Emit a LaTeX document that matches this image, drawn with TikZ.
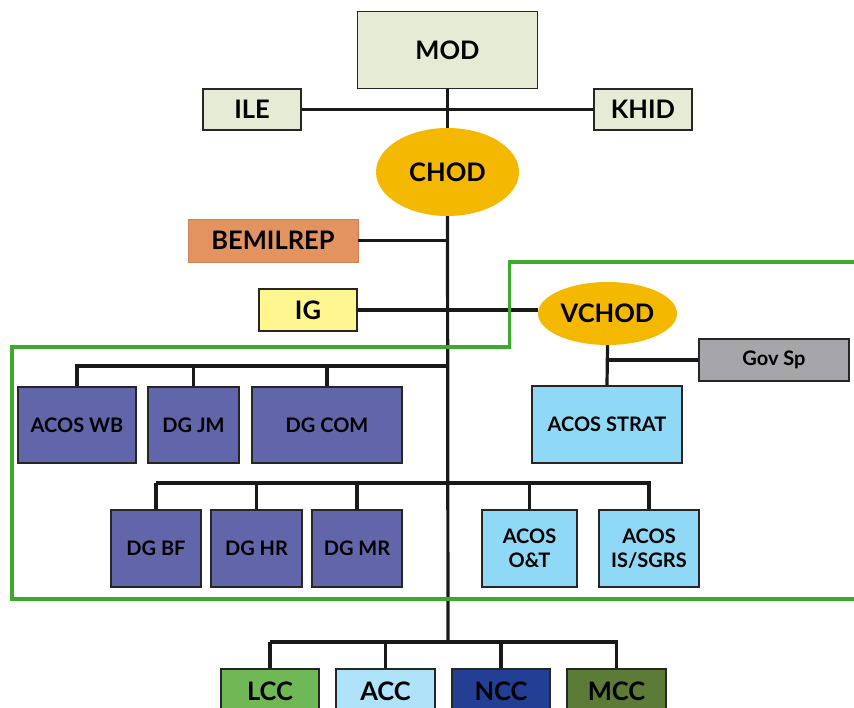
\documentclass[tikz,border=0pt]{standalone}
\usepackage{fontspec}
\setmainfont{Lato}
\usetikzlibrary{shapes.geometric}
\definecolor{modfill}{HTML}{E6EBD6}
\definecolor{gold}{HTML}{F5B800}
\definecolor{bemfill}{HTML}{E3935F}
\definecolor{igfill}{HTML}{FFF68F}
\definecolor{slate}{HTML}{6166AA}
\definecolor{sky}{HTML}{8FD9F7}
\definecolor{govfill}{HTML}{A6A5AA}
\definecolor{lccfill}{HTML}{6FB855}
\definecolor{accfill}{HTML}{AEE3F9}
\definecolor{nccfill}{HTML}{233F94}
\definecolor{mccfill}{HTML}{5B7B36}
\definecolor{frame}{HTML}{3DAA2E}
\tikzset{
  big/.style={font=\fontsize{25.5}{29}\selectfont\bfseries},
  small/.style={font=\fontsize{20}{24}\selectfont\bfseries, align=center},
  box/.style={draw=black!85, line width=1.8pt, rectangle, inner sep=0pt, text=black},
  oval/.style={ellipse, fill=gold, inner sep=0pt, text=black},
  conn/.style={line width=3.2pt, black!90},
  greenline/.style={line width=3.2pt, frame}
}
\begin{document}
\begin{tikzpicture}[x=1pt,y=-1pt]
\useasboundingbox (0,0) rectangle (854,708);
\clip (0,0) rectangle (854,708);
% nodes
\node[box, big, fill=modfill, minimum width=180pt, minimum height=77pt] (mod) at (447.5,50) {MOD};
\node[box, big, fill=modfill, minimum width=98pt, minimum height=41pt] (ile) at (252,109.5) {ILE};
\node[box, big, fill=modfill, minimum width=98pt, minimum height=41pt] (khid) at (643,109.5) {KHID};
\node[oval, big, minimum width=143pt, minimum height=88pt] (chod) at (447.5,172) {CHOD};
\node[rectangle, inner sep=0pt, big, fill=bemfill, draw=bemfill!90!black, line width=0.8pt, minimum width=170pt, minimum height=43pt] (bem) at (273,240.5) {BEMILREP};
\node[box, big, fill=igfill, minimum width=98pt, minimum height=42pt] (ig) at (308,310) {IG};
\node[oval, big, minimum width=139pt, minimum height=63pt] (vchod) at (607.5,313.5) {VCHOD};
\node[box, small, fill=govfill, minimum width=150pt, minimum height=42pt] (gov) at (774,360) {Gov Sp};
\node[box, small, fill=sky, minimum width=150pt, minimum height=77pt] (strat) at (607,424.5) {ACOS STRAT};
\node[box, small, fill=slate, minimum width=118pt, minimum height=76pt] (acoswb) at (77,425) {ACOS WB};
\node[box, small, fill=slate, minimum width=91pt, minimum height=76pt] (dgjm) at (193.5,425) {DG JM};
\node[box, small, fill=slate, minimum width=150pt, minimum height=76pt] (dgcom) at (327,425) {DG COM};
\node[box, small, fill=slate, minimum width=90pt, minimum height=77pt] (dgbf) at (156,548.5) {DG BF};
\node[box, small, fill=slate, minimum width=91pt, minimum height=77pt] (dghr) at (256.5,548.5) {DG HR};
\node[box, small, fill=slate, minimum width=90pt, minimum height=77pt] (dgmr) at (357,548.5) {DG MR};
\node[box, small, fill=sky, minimum width=95pt, minimum height=77pt] (acosot) at (529.5,548.5) {ACOS\\O\&T};
\node[box, small, fill=sky, minimum width=100pt, minimum height=77pt] (acosis) at (649,548.5) {ACOS\\IS/SGRS};
\node[box, big, fill=lccfill, minimum width=98pt, minimum height=44pt] (lcc) at (270,691) {LCC};
\node[box, big, fill=accfill, minimum width=99pt, minimum height=44pt] (acc) at (385.5,691) {ACC};
\node[box, big, fill=nccfill, minimum width=98pt, minimum height=44pt] (ncc) at (501,691) {NCC};
\node[box, big, fill=mccfill, minimum width=99pt, minimum height=44pt] (mcc) at (616.5,691) {MCC};
% junctions
\coordinate (j1) at (448,366);
\coordinate (j2) at (448,483);
\coordinate (j3) at (448,642);
% connectors
\draw[conn] (mod.south) -- (chod.north);
\draw[conn] (ile.east) -- (khid.west);
\draw[conn] (chod.south) -- (j3);
\draw[conn] (bem.east) -- (bem.east -| j3);
\draw[conn] (ig.east) -- (ig.east -| vchod.west);
\draw[conn] (vchod.south) -- (strat.north);
\draw[conn] (gov.west) -- (gov.west -| vchod.south);
\draw[conn] (j1) -- (j1 -| acoswb.north) -- (acoswb.north);
\draw[conn] (j1 -| dgjm.north) -- (dgjm.north);
\draw[conn] (j1 -| dgcom.north) -- (dgcom.north);
\draw[conn] (j2 -| dgbf.north) -- (dgbf.north);
\draw[conn] (j2 -| dgbf.north) -- (j2 -| acosis.north) -- (acosis.north);
\draw[conn] (j2 -| dghr.north) -- (dghr.north);
\draw[conn] (j2 -| dgmr.north) -- (dgmr.north);
\draw[conn] (j2 -| acosot.north) -- (acosot.north);
\draw[conn] (j3 -| lcc.north) -- (lcc.north);
\draw[conn] (j3 -| lcc.north) -- (j3 -| mcc.north) -- (mcc.north);
\draw[conn] (j3 -| acc.north) -- (acc.north);
\draw[conn] (j3 -| ncc.north) -- (ncc.north);
% green frame
\coordinate (g0) at (856,262);
\coordinate (g1) at (509.5,262);
\coordinate (g2) at (509.5,347);
\coordinate (g3) at (12,347);
\coordinate (g4) at (12,599);
\coordinate (g5) at (856,599);
\draw[greenline] (g0) -- (g1) -- (g2) -- (g3) -- (g4) -- (g5);
\end{tikzpicture}
\end{document}
